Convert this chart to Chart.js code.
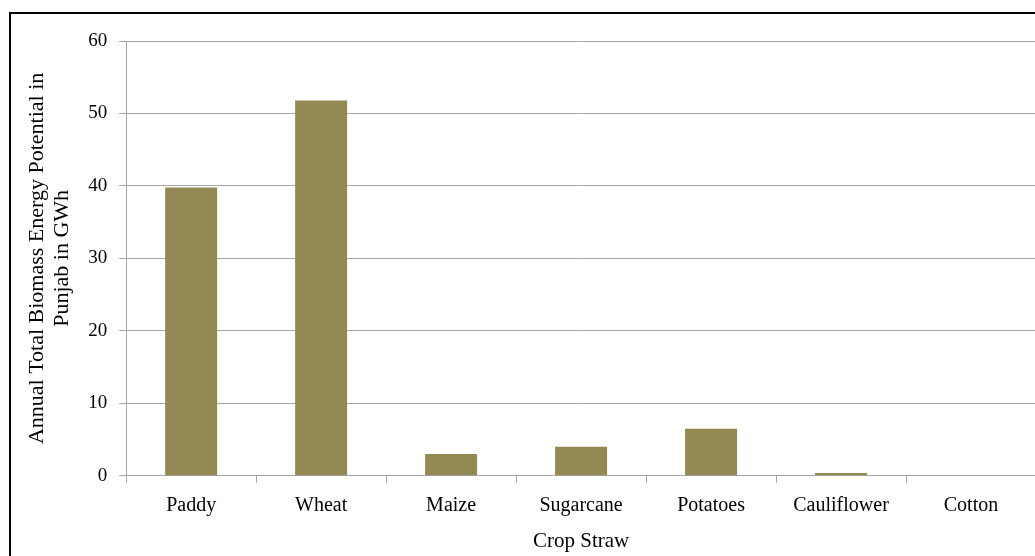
<!DOCTYPE html>
<html lang="en">
<head>
  <meta charset="UTF-8" />
  <title>Biomass Energy Potential in Punjab</title>
  <script src="https://cdn.jsdelivr.net/npm/chart.js"></script>
  <style>
    html, body { margin: 0; padding: 0; background: #fff; overflow: hidden; }
    body { width: 1035px; height: 556px; position: relative; }
    .frame {
      position: absolute; left: 9px; top: 12px;
      width: 1100px; height: 600px;
      border: 2px solid #000; box-sizing: border-box;
    }
    .chart-box { position: absolute; left: 0; top: 0; width: 1060px; height: 556px; }
  </style>
</head>
<body>
  <div class="frame"></div>
  <div class="chart-box">
    <canvas id="biomassChart" width="1060" height="556"></canvas>
  </div>

  <script>
    // Crop straw categories and annual energy potential (GWh)
    const crops = ["Paddy", "Wheat", "Maize", "Sugarcane", "Potatoes", "Cauliflower", "Cotton"];
    const energyGWh = [39.8, 51.8, 3.0, 4.0, 6.5, 0.4, 0.05];
    const yTicks = [0, 10, 20, 30, 40, 50, 60];

    const serif = "'Liberation Serif', 'Times New Roman', serif";
    const gridGray = "#a6a6a6";

    const ctx = document.getElementById("biomassChart").getContext("2d");
    new Chart(ctx, {
      type: "bar",
      data: {
        labels: crops,
        datasets: [{
          label: "Energy potential",
          data: energyGWh,
          backgroundColor: "#938953",
          borderWidth: 0,
          categoryPercentage: 1.0,
          barPercentage: 0.4
        }]
      },
      options: {
        responsive: false,
        animation: false,
        layout: { padding: { left: 25, top: 41, right: 24, bottom: 2 } },
        plugins: {
          legend: { display: false },
          tooltip: { enabled: false }
        },
        scales: {
          x: {
            offset: true,
            grid: {
              offset: true,
              drawOnChartArea: false,
              color: gridGray,
              tickLength: 7
            },
            border: { color: gridGray, width: 1 },
            ticks: {
              color: "#000",
              padding: 11,
              font: { family: serif, size: 20 }
            },
            title: {
              display: true,
              text: "Crop Straw",
              color: "#000",
              padding: { top: 0, bottom: 0 },
              font: { family: serif, size: 21 }
            }
          },
          y: {
            min: 0,
            max: 60,
            afterBuildTicks: (scale) => {
              scale.ticks = yTicks.map((v) => ({ value: v }));
            },
            grid: {
              color: gridGray,
              tickLength: 7
            },
            border: { color: gridGray, width: 1 },
            ticks: {
              color: "#000",
              padding: 12,
              font: { family: serif, size: 19 }
            },
            title: {
              display: true,
              text: ["Annual Total Biomass Energy Potential in", "Punjab in GWh"],
              color: "#000",
              padding: { top: 0, bottom: 1 },
              font: { family: serif, size: 22, lineHeight: 1.14 }
            }
          }
        }
      }
    });
  </script>
</body>
</html>
